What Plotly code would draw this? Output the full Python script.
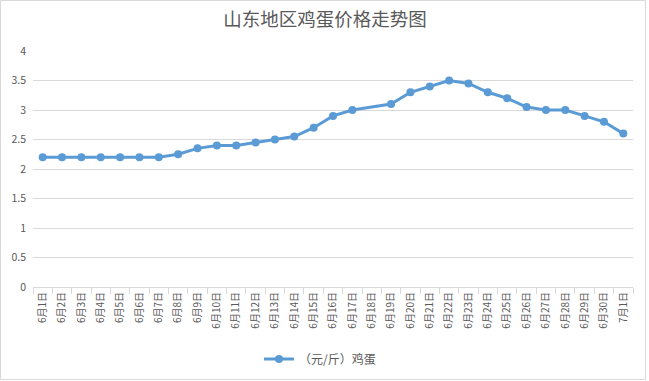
import plotly.graph_objects as go

dates = [f"6月{i}日" for i in range(1, 31)] + ["7月1日"]
prices = [2.2, 2.2, 2.2, 2.2, 2.2, 2.2, 2.2, 2.25, 2.35, 2.4,
          2.4, 2.45, 2.5, 2.55, 2.7, 2.9, 3.0, None, 3.1, 3.3,
          3.4, 3.5, 3.45, 3.3, 3.2, 3.05, 3.0, 3.0, 2.9, 2.8, 2.6]
series_name = "（元/斤）鸡蛋"
title = "山东地区鸡蛋价格走势图"

W, H = 649, 381
ml, mr, mt, mb = 33, 16, 51, 94
pw, ph = W - ml - mr, H - mt - mb

fig = go.Figure()
fig.add_trace(go.Scatter(
    x=dates, y=prices, name=series_name, mode="lines+markers",
    connectgaps=True,
    line=dict(color="#5B9BD5", width=3),
    marker=dict(color="#5B9BD5", size=8),
))

font = "Noto Sans CJK SC"
fig.update_layout(
    width=W, height=H,
    margin=dict(l=ml, r=mr, t=mt, b=mb, autoexpand=False),
    paper_bgcolor="white", plot_bgcolor="white",
    font=dict(family=font, color="#595959", size=10),
    title=dict(text=title, x=(325 - ml) / pw, xref="paper", xanchor="center", y=1 - 20 / H, yanchor="middle",
               font=dict(size=18.5, color="#595959", family=font)),
    showlegend=True,
    legend=dict(orientation="h", x=(320 - ml) / pw, xanchor="center", y=(287 - 359) / ph, yanchor="middle",
                font=dict(size=12, color="#595959", family=font)),
    xaxis=dict(type="category", tickangle=-90, showgrid=False, showline=True, automargin=False,
               linecolor="#D9D9D9", linewidth=1, ticks="outside", tickson="boundaries",
               ticklen=6, tickcolor="#D9D9D9", tickfont=dict(size=10, color="#595959"),
               range=[-0.5, len(dates) - 0.5], fixedrange=True),
    yaxis=dict(range=[0, 4], dtick=0.5, showgrid=True, gridcolor="#D9D9D9", gridwidth=1, automargin=False,
               zeroline=False, showline=False, tickfont=dict(size=10.5, color="#595959"),
               ticklabelstandoff=6, fixedrange=True),
)

# chart border
fig.add_shape(type="rect", xref="paper", yref="paper",
              x0=(0.5 - ml) / pw, x1=(W - 3.5 - ml) / pw,
              y0=-(mb - 1.5) / ph, y1=1 + (mt - 0.5) / ph,
              line=dict(color="#D9D9D9", width=1), layer="below")

fig.write_html("out.html", config={"displayModeBar": False},
               post_script="document.body.style.margin='0';")
